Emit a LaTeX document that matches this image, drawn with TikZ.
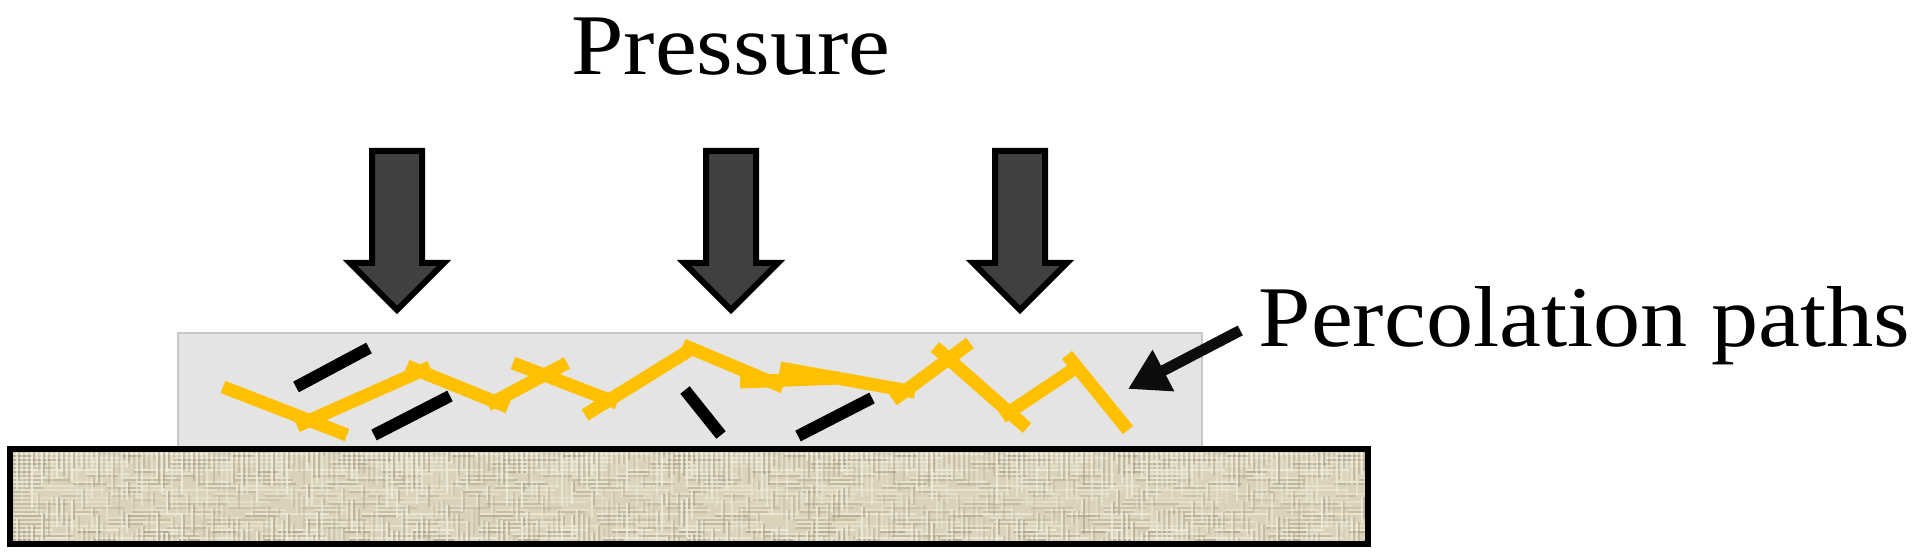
\documentclass[tikz,border=0pt]{standalone}
\usepackage{fontspec}
\setmainfont[FakeStretch=1.09]{Liberation Serif}
\usetikzlibrary{arrows.meta}
\definecolor{pathyellow}{HTML}{FFC000}
\definecolor{pressgrey}{HTML}{404040}
\definecolor{filmgrey}{HTML}{E4E4E4}
\definecolor{filmedge}{HTML}{C8C8C8}
\definecolor{boardtan}{HTML}{DAD2BB}
\definecolor{boardlight}{HTML}{F1ECDD}
\definecolor{boarddark}{HTML}{A89E84}

\begin{document}
\begin{tikzpicture}[x=0.1mm,y=-0.1mm,
    pathline/.style={pathyellow,line width=1.3mm},
    flake/.style={black,line width=1.2mm},
    pressarrow/.style={draw=black,fill=pressgrey,line width=0.6mm,miter limit=10},
    bigtext/.style={inner sep=0pt,font=\fontsize{24.6}{30}\selectfont}]
  \useasboundingbox (0,0) rectangle (1920,560);

  \draw[fill=filmgrey,draw=filmedge,line width=0.15mm] (178,333) rectangle (1202,448);

  \fill[boardtan] (10,449) rectangle (1368,545);
  \begin{scope}
    \clip (10,449) rectangle (1368,545);
    \pgfmathsetseed{42}
    \foreach \y in {450,454,...,544} {
      \pgfmathsetmacro{\op}{0.3+0.6*rnd}
      \pgfmathsetmacro{\da}{8+30*rnd}
      \pgfmathsetmacro{\db}{4+14*rnd}
      \draw[boardlight,opacity=\op,line width=0.2mm,dash pattern=on \da pt off \db pt] (10,\y) -- (1368,\y);
      \draw[boarddark,opacity=\op*0.8,line width=0.12mm,dash pattern=on \db pt off \da pt] (10,\y+2) -- (1368,\y+2);
    }
    \foreach \x in {12,17,...,1368} {
      \pgfmathsetmacro{\op}{0.25+0.6*rnd}
      \pgfmathsetmacro{\da}{3+14*rnd}
      \pgfmathsetmacro{\db}{2+9*rnd}
      \draw[boardlight,opacity=\op,line width=0.18mm,dash pattern=on \da pt off \db pt] (\x,449) -- (\x,545);
      \draw[boarddark,opacity=\op*0.7,line width=0.12mm,dash pattern=on \db pt off \da pt] (\x+2,449) -- (\x+2,545);
    }
  \end{scope}
  \draw[black,line width=0.6mm] (10,449) rectangle (1368,544.5);

  \foreach \x in {397,731,1020} {
    \draw[pressarrow] (\x-25,151) -- (\x+25,151) -- (\x+25,263) -- (\x+47,263)
      -- (\x,310) -- (\x-47,263) -- (\x-25,263) -- cycle;
  }

  \draw[pathline] (223,387) -- (347,435);
  \draw[pathline] (297,426) -- (430,367);
  \draw[pathline] (407,366) -- (508,407);
  \draw[pathline] (488,405) -- (567,363);
  \draw[pathline] (513,363) -- (617,403);
  \draw[pathline] (585,415) -- (690,350);
  \draw[pathline] (683,345) -- (783,387);
  \draw[pathline] (740,382) -- (840,378);
  \draw[pathline] (780,368) -- (915,392);
  \draw[pathline] (893,400) -- (970,343);
  \draw[pathline] (935,347) -- (1027,428);
  \draw[pathline] (1002,417) -- (1080,365);
  \draw[pathline] (1067,355) -- (1128,430);

  \draw[flake] (296,387) -- (369,348);
  \draw[flake] (374,435) -- (450,396);
  \draw[flake] (685,390) -- (721,435);
  \draw[flake] (798,436) -- (872,398);

  \node[bigtext,anchor=base] (pressure) at (731,75) {Pressure};
  \node[bigtext,anchor=base west] (paths) at (1258,347) {Percolation paths};
  \coordinate (pathstip) at (1128,389);
  \draw[-{Triangle[length=4mm,width=4.4mm]},line width=1.1mm,color=black!95,shorten <=2mm] ([yshift=0.5mm]paths.west) -- (pathstip);
\end{tikzpicture}
\end{document}
